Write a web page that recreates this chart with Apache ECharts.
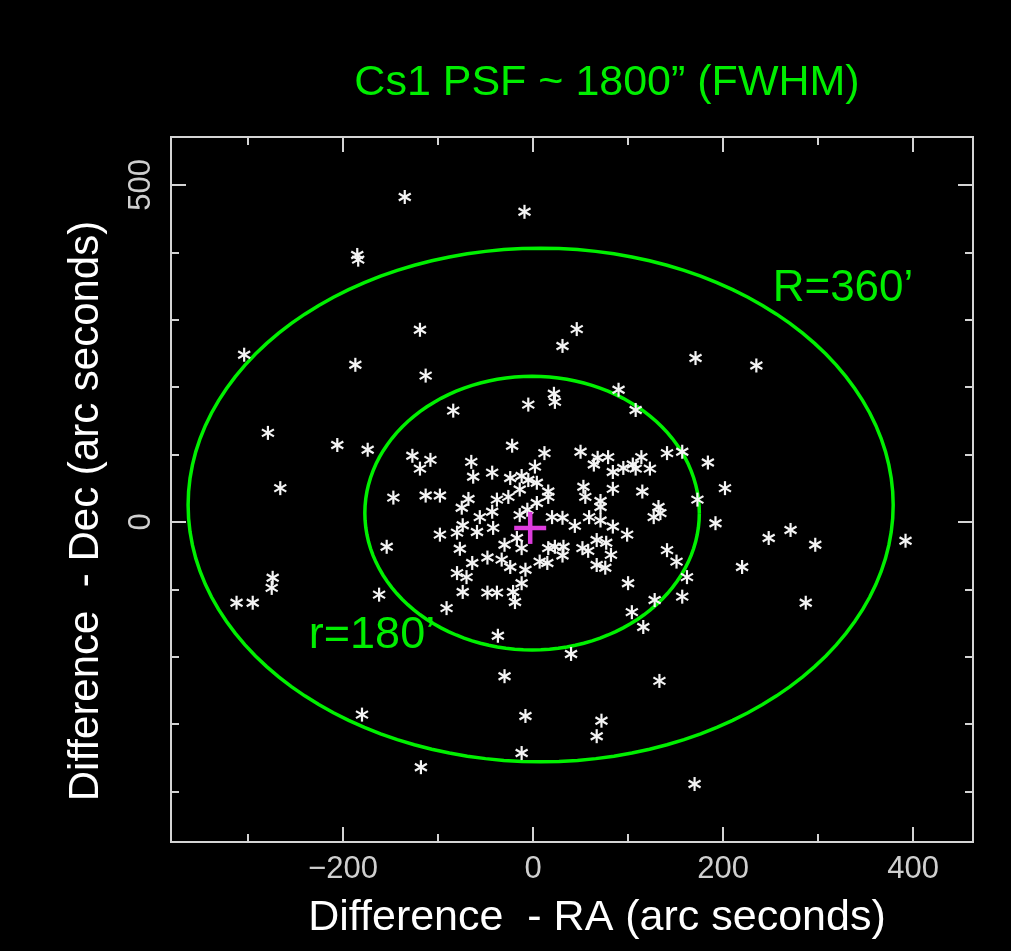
<!DOCTYPE html>
<html>
<head>
<meta charset="utf-8">
<script src="https://cdn.jsdelivr.net/npm/echarts@6/dist/echarts.min.js"></script>
<style>
html,body{margin:0;padding:0;background:#000;}
#c{width:1011px;height:951px;}
</style>
</head>
<body>
<div id="c"></div>
<script>
// ---- data (arc seconds) ----
const raOffset = [
  -135, -9, -185, -184, -119, 46, 31, -304, -187, 171, 235, -113, 22, 23, 90, -5, -84, 108,
  -279, -206, -174, 184, 157, -266, 202, 173, 192, 271, 248, 297, 392, -154, 220, -274, -275,
  -312, -295, -162, 162, 157, 287, 104, 116, -37, 40, 133, -30, -180, -8, 72, 67, -12, -118, 170,
  -22, 12, -127, -108, -119, -65, -63, -43, 2, -24, -12, -5, 4, -14, 16, -147, -113, -98, -68,
  -38, -26, -75, -56, -43, -74, -80, -98, -59, -42, -14, -17, -12, -30, -77, -48, -33, -24, -64,
  -80, -70, -8, -12, 7, 16, 15, -74, -48, -38, -21, -19, -91, 4, -6, 16,
  50, 68, 64, 79, 84, 95, 105, 108, 114, 123, 141, 53, 55, 84, 115, 71, 71, 132, 134, 127,
  20, 31, 44, 59, 71, 84, 99, 23, 32, 31, 52, 58, 67, 77, 67, 76, 82, 141, 151, 100, 128
];
const decOffset = [
  482, 460, 396, 389, 285, 286, 261, 248, 233, 243, 232, 217, 190, 178, 196, 174, 165, 166,
  132, 114, 107, 88, 104, 50, 50, 33, -2, -12, -24, -34, -28, -37, -67, -83, -98,
  -120, -120, -108, -82, -111, -120, -134, -156, -169, -196, -236, -229, -286, -288, -295, -318, -343, -364, -389,
  113, 102, 98, 92, 79, 89, 67, 73, 82, 65, 68, 62, 58, 48, 45, 36, 39, 39, 34,
  33, 37, 21, 7, 15, -5, -16, -19, -15, -9, 10, -24, -39, -34, -40, -53, -56, -67, -61,
  -76, -82, -71, -91, -59, -39, -61, -104, -105, -105, -104, -119, -128, 28, 18, 37,
  104, 95, 85, 96, 74, 80, 85, 79, 96, 79, 102, 52, 37, 49, 45, 31, 22, 22, 13, 7,
  7, 6, -6, 7, 2, -7, -19, -37, -37, -50, -39, -43, -27, -31, -64, -68, -49, -42, -59, -91, -116
];
// source position marker
const sourceRA = [-3];
const sourceDec = [-9];
// PSF circles: centre RA, centre Dec, RA radius, Dec radius
const circleRA = [8, -1];
const circleDec = [25, 13];
const circleRadRA = [371, 176];
const circleRadDec = [381, 203];
// axes
const raRange = [-381, 463];
const decRange = [-475, 571];
const raMajorTicks = [-200, 0, 200, 400];
const raMinorTicks = [-300, -100, 100, 300];
const decMajorTicks = [0, 500];
const decMinorTicks = [-400, -300, -200, -100, 100, 200, 300, 400];

const starData = raOffset.map((x, i) => [x, decOffset[i]]);
const srcData = sourceRA.map((x, i) => [x, sourceDec[i]]);
const circData = circleRA.map((x, i) => [x, circleDec[i], circleRadRA[i], circleRadDec[i]]);

const tickCol = '#d4d4d4';
const labelFont = {fontFamily: 'Liberation Sans, Arial, sans-serif', fontSize: 31, color: '#cfcfcf'};

function xAx(pos, ticks, len, labels) {
  return {
    type: 'value', position: pos, min: raRange[0], max: raRange[1],
    axisLine: {show: false, onZero: false}, splitLine: {show: false},
    axisTick: {show: true, inside: true, length: len, customValues: ticks, lineStyle: {color: tickCol, width: 2}},
    axisLabel: labels ? Object.assign({show: true, customValues: ticks, margin: 12,
      formatter: v => (v < 0 ? '\u2212' + Math.abs(v) : String(v))}, labelFont) : {show: false}
  };
}
function yAx(pos, ticks, len, labels) {
  return {
    type: 'value', position: pos, min: decRange[0], max: decRange[1],
    axisLine: {show: false, onZero: false}, splitLine: {show: false},
    axisTick: {show: true, inside: true, length: len, customValues: ticks, lineStyle: {color: tickCol, width: 2}},
    axisLabel: labels ? Object.assign({show: true, customValues: ticks, margin: 14, rotate: 90,
      formatter: v => String(v)}, labelFont) : {show: false}
  };
}

const chart = echarts.init(document.getElementById('c'), null, {renderer: 'canvas'});
chart.setOption({
  backgroundColor: '#000',
  animation: false,
  grid: {left: 171, right: 38, top: 137, bottom: 109, show: true, borderColor: tickCol, borderWidth: 2, backgroundColor: 'transparent'},
  xAxis: [
    xAx('bottom', raMajorTicks, 15, true),
    xAx('bottom', raMinorTicks, 8, false),
    xAx('top', raMajorTicks, 15, false),
    xAx('top', raMinorTicks, 8, false)
  ],
  yAxis: [
    yAx('left', decMajorTicks, 15, true),
    yAx('left', decMinorTicks, 8, false),
    yAx('right', decMajorTicks, 15, false),
    yAx('right', decMinorTicks, 8, false)
  ],
  graphic: [
    {type: 'text', x: 607, y: 83, style: {text: 'Cs1 PSF ~ 1800\u201d (FWHM)', fill: '#00ee00', font: '43px "Liberation Sans", Arial, sans-serif', textAlign: 'center', textVerticalAlign: 'middle'}},
    {type: 'text', x: 597, y: 918, style: {text: 'Difference  - RA (arc seconds)', fill: '#ffffff', font: '43px "Liberation Sans", Arial, sans-serif', textAlign: 'center', textVerticalAlign: 'middle'}},
    {type: 'text', x: 86, y: 511, rotation: Math.PI / 2, style: {text: 'Difference  - Dec (arc seconds)', fill: '#ffffff', font: '42px "Liberation Sans", Arial, sans-serif', textAlign: 'center', textVerticalAlign: 'middle'}},
    {type: 'text', x: 843, y: 289, style: {text: 'R=360\u2019', fill: '#00ee00', font: '44px "Liberation Sans", Arial, sans-serif', textAlign: 'center', textVerticalAlign: 'middle'}},
    {type: 'text', x: 372, y: 636, style: {text: 'r=180\u2019', fill: '#00ee00', font: '45px "Liberation Sans", Arial, sans-serif', textAlign: 'center', textVerticalAlign: 'middle'}}
  ],
  series: [
    {
      type: 'custom', xAxisIndex: 0, yAxisIndex: 0, data: circData, silent: true, z: 3,
      renderItem: function (params, api) {
        const c = api.coord([api.value(0), api.value(1)]);
        const s = api.size([api.value(2), api.value(3)]);
        const pts = [];
        for (let k = 0; k <= 120; k++) {
          const a = k / 120 * Math.PI * 2;
          pts.push([c[0] + s[0] * Math.cos(a), c[1] + s[1] * Math.sin(a)]);
        }
        return {type: 'polyline', shape: {points: pts}, style: {stroke: '#00f000', lineWidth: 3.5, fill: null}};
      }
    },
    {
      type: 'custom', xAxisIndex: 0, yAxisIndex: 0, data: starData, silent: true, z: 4,
      renderItem: function (params, api) {
        const p = api.coord([api.value(0), api.value(1)]);
        const r = 7, dx = 6, dy = 3.5;
        const st = {stroke: '#f4f4f4', lineWidth: 2.2};
        return {type: 'group', children: [
          {type: 'line', shape: {x1: p[0], y1: p[1] - r, x2: p[0], y2: p[1] + r}, style: st},
          {type: 'line', shape: {x1: p[0] - dx, y1: p[1] - dy, x2: p[0] + dx, y2: p[1] + dy}, style: st},
          {type: 'line', shape: {x1: p[0] - dx, y1: p[1] + dy, x2: p[0] + dx, y2: p[1] - dy}, style: st}
        ]};
      }
    },
    {
      type: 'custom', xAxisIndex: 0, yAxisIndex: 0, data: srcData, silent: true, z: 5,
      renderItem: function (params, api) {
        const p = api.coord([api.value(0), api.value(1)]);
        const h = 16;
        const st = {stroke: '#dc3cdc', lineWidth: 4.5};
        return {type: 'group', children: [
          {type: 'line', shape: {x1: p[0] - h, y1: p[1], x2: p[0] + h, y2: p[1]}, style: st},
          {type: 'line', shape: {x1: p[0], y1: p[1] - h, x2: p[0], y2: p[1] + h}, style: st}
        ]};
      }
    }
  ]
});
</script>
</body>
</html>
